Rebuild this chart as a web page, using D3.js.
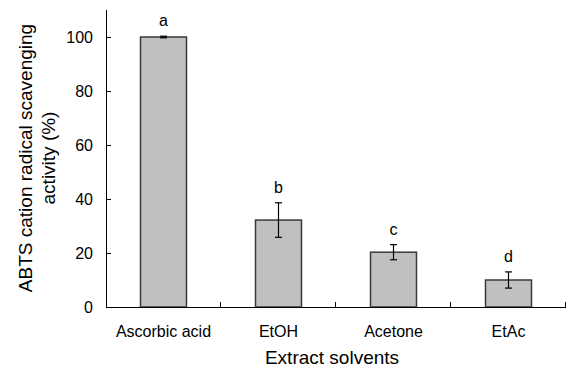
<!DOCTYPE html>
<html>
<head>
<meta charset="utf-8">
<script src="https://cdn.jsdelivr.net/npm/d3@7"></script>
<style>
  html, body { margin: 0; padding: 0; background: #fff; }
  svg { display: block; font-family: "Liberation Sans", Arial, sans-serif; }
</style>
</head>
<body>
<svg id="chart" width="569" height="371"></svg>
<script>
const categories = ['Ascorbic acid', 'EtOH', 'Acetone', 'EtAc'];
const means = [100, 32.2, 20.3, 10];
const errors = [0.3, 6.4, 2.8, 3];
const letters = ['a', 'b', 'c', 'd'];
const yTicks = [0, 20, 40, 60, 80, 100];

const data = categories.map((c, i) => ({ cat: c, mean: means[i], err: errors[i], letter: letters[i] }));

const width = 569, height = 371;
const margin = { top: 10, right: 3, bottom: 64, left: 106 };
const innerWidth = width - margin.left - margin.right;
const innerHeight = height - margin.top - margin.bottom;

const svg = d3.select('#chart');
const g = svg.append('g')
    .attr('transform', `translate(${margin.left},${margin.top})`);

// Scales
const x = d3.scaleBand().domain(categories).range([0, innerWidth]).padding(0);
const y = d3.scaleLinear().domain([0, 110]).range([innerHeight, 0]);
const barW = x.bandwidth() * 0.4;

// Bars
g.selectAll('.bar')
    .data(data)
    .join('rect')
    .attr('class', 'bar')
    .attr('x', d => x(d.cat) + (x.bandwidth() - barW) / 2)
    .attr('y', d => y(d.mean))
    .attr('width', barW)
    .attr('height', d => y(0) - y(d.mean))
    .attr('fill', '#c0c0c0')
    .attr('stroke', '#3a3a3a')
    .attr('stroke-width', 1.5);

// Error bars
const eb = g.selectAll('.err')
    .data(data)
    .join('g')
    .attr('class', 'err')
    .attr('stroke', '#000')
    .attr('stroke-width', 1.2);

eb.append('line')
    .attr('x1', d => x(d.cat) + x.bandwidth() / 2)
    .attr('x2', d => x(d.cat) + x.bandwidth() / 2)
    .attr('y1', d => y(d.mean + d.err))
    .attr('y2', d => y(d.mean - d.err));

[1, -1].forEach(s => {
    eb.append('line')
        .attr('x1', d => x(d.cat) + x.bandwidth() / 2 - 3.5)
        .attr('x2', d => x(d.cat) + x.bandwidth() / 2 + 3.5)
        .attr('y1', d => y(d.mean + s * d.err))
        .attr('y2', d => y(d.mean + s * d.err));
});

// Significance letters
g.selectAll('.letter')
    .data(data)
    .join('text')
    .attr('class', 'letter')
    .attr('x', d => x(d.cat) + x.bandwidth() / 2)
    .attr('y', d => y(d.mean + d.err) - 10)
    .attr('text-anchor', 'middle')
    .attr('font-size', '16px')
    .attr('fill', '#000')
    .text(d => d.letter);

// Y axis
g.append('g')
    .call(d3.axisRight(y).tickValues(yTicks).tickSize(5).tickFormat(d3.format('d')))
    .call(a => a.select('.domain').attr('d', `M0.5,${innerHeight}V0`).attr('stroke', '#000'))
    .call(a => a.selectAll('.tick line').attr('stroke', '#000'))
    .call(a => a.selectAll('.tick text')
        .attr('x', -13)
        .attr('text-anchor', 'end')
        .attr('font-size', '16px')
        .attr('font-family', '"Liberation Sans", Arial, sans-serif')
        .attr('fill', '#000'));

// X axis
const xBounds = d3.range(1, categories.length + 1).map(i => i * x.bandwidth());
g.append('line')
    .attr('x1', 0).attr('x2', innerWidth)
    .attr('y1', innerHeight + 0.5).attr('y2', innerHeight + 0.5)
    .attr('stroke', '#000');
g.selectAll('.xtick')
    .data(xBounds)
    .join('line')
    .attr('class', 'xtick')
    .attr('x1', d => d - 0.5).attr('x2', d => d - 0.5)
    .attr('y1', innerHeight).attr('y2', innerHeight - 5)
    .attr('stroke', '#000');
g.selectAll('.xlabel')
    .data(categories)
    .join('text')
    .attr('class', 'xlabel')
    .attr('x', d => x(d) + x.bandwidth() / 2)
    .attr('y', innerHeight + 30)
    .attr('text-anchor', 'middle')
    .attr('font-size', '16px')
    .text(d => d);

// Axis titles
svg.append('text')
    .attr('x', margin.left + innerWidth / 2 - 4)
    .attr('y', 364)
    .attr('text-anchor', 'middle')
    .attr('font-size', '19px')
    .text('Extract solvents');

const yTitle = svg.append('text')
    .attr('transform', 'translate(32,158) rotate(-90)')
    .attr('text-anchor', 'middle')
    .attr('font-size', '19px');
yTitle.append('tspan').attr('x', 0).attr('y', 0).text('ABTS cation radical scavenging');
yTitle.append('tspan').attr('x', 0).attr('y', 23).text('activity (%)');
</script>
</body>
</html>
